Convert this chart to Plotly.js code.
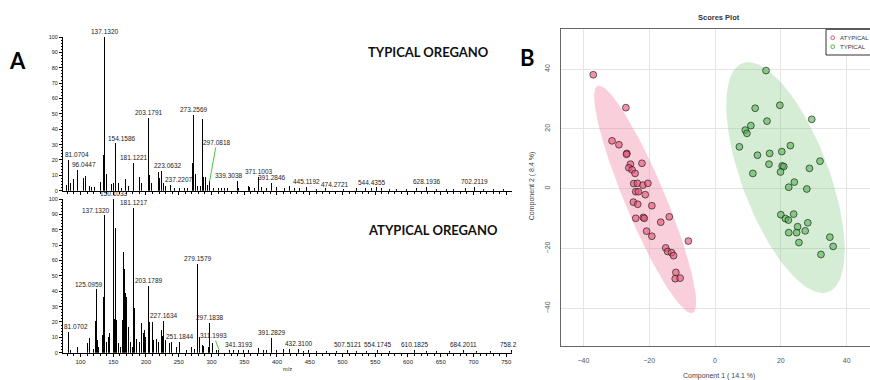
<!DOCTYPE html>
<html>
<head>
<meta charset="utf-8">
<script src="https://cdn.plot.ly/plotly-3.0.1.min.js"></script>
<style>
  html, body { margin: 0; padding: 0; background: #fff; overflow: hidden; }
  #fig { width: 870px; height: 380px; }
</style>
</head>
<body>
<div id="fig"></div>
<script>
// ---------- Panel A: MS spectra (m/z vs relative abundance, %) ----------
// Typical oregano: annotated peaks
const typLabels = ['81.0704','96.0447','137.1320','154.1586','181.1221','203.1791','223.0632','237.2207',
  '273.2569','297.0818','339.3038','371.1003','391.2846','445.1192','474.2721','544.4355','628.1936','702.2119'];
const typLabelInt = [20, 13.5, 100, 31, 18, 47, 13, 4, 49, 6, 6.5, 9, 5, 2.6, 1.5, 2, 2.2, 2.2];
// Typical oregano: remaining peaks
const typMz = [77.9, 85, 90, 104.3, 107.9, 113.4, 117, 122, 129.8, 134.8, 140, 147.6, 150, 152.7, 158.3, 162.9,
  168.4, 171, 173.5, 190.8, 193.4, 206, 208.5, 218.8, 220.5, 226.4, 230, 244, 251, 259, 264, 271.3, 275.9, 278.5,
  283.5, 286.5, 288.5, 291.1, 293.5, 303, 310, 315, 320, 325, 341.5, 356.2, 358.7, 366.4, 376.6, 384.2, 399.5,
  404.6, 412.2, 419.8, 427.4, 435.1, 450.4, 460.5, 501.3, 521.6, 534.4, 552.2, 559.8, 572.5, 582.7, 598, 613.3,
  643.8, 659.1, 669.3, 687.1, 715.1, 730.4, 745.6];
const typInt = [4, 5.2, 7.4, 8, 9.8, 3, 2.5, 2.5, 5.9, 23.2, 11, 4.5, 5, 24, 5, 2,
  7.5, 6, 3, 9, 5, 10.5, 5, 12.4, 8, 5, 3, 2, 1.5, 1.5, 2, 18, 11, 3,
  3, 46.4, 9, 9, 4, 1.5, 2, 1.5, 1.5, 1.5, 2, 3, 2.5, 2, 2.5, 2, 2.5,
  3, 2, 3.2, 2, 2, 2, 1, 1, 1.5, 1.5, 2.5, 1.5, 1, 1, 1, 2,
  1, 1, 1, 2, 1, 1, 1];

// Atypical oregano: annotated peaks
const atypLabels = ['81.0702','125.0959','137.1320','150.1033','181.1217','203.1789','227.1634','251.1844',
  '279.1579','297.1838','311.1993','341.3193','391.2829','432.3100','507.5121','554.1745','610.1825','684.2011','758.2'];
const atypLabelInt = [13.7, 41.4, 89.6, 100, 94, 43.4, 20.4, 7, 57.7, 19.5, 2, 2, 9.8, 2.2, 1.5, 1.5, 2, 1.8, 2];
// Atypical oregano: remaining peaks
const atypMz = [85, 95.1, 108.4, 110.4, 114.5, 119.6, 122.7, 126.2, 128.2, 133.3, 134.8, 140, 142.5, 145, 148.1,
  152.2, 153.7, 155.2, 158.3, 161.3, 163.9, 165.4, 166.9, 168.4, 169.5, 171, 173, 176.6, 179.1, 183.2, 185.8,
  189.8, 193.4, 195.9, 197.4, 199.5, 206.1, 209.6, 211.7, 215.3, 219.8, 223.4, 224.9, 230, 236.6, 239.2, 246.9,
  262.1, 269.8, 274.8, 282, 286, 288.5, 295.1, 300.8, 308, 328.2, 333.3, 348.5, 356.2, 371.4, 379.1, 384.2,
  399.5, 409.7, 419.8, 440.2, 447.8, 460.5, 475.8, 491, 521.6, 536.9, 572.5, 587.8, 628.4, 643.8, 664.1, 704.9, 725.3];
const atypInt = [2, 3.5, 12.6, 6.5, 9.3, 2.6, 20.6, 8, 4, 11.5, 36, 7, 10, 12.6, 5,
  22, 81, 21, 6, 4, 21, 65.7, 54.4, 38.6, 36.4, 10, 17, 7, 4, 28.9, 9,
  7, 19.5, 12.6, 14.8, 10, 20, 20, 8, 9, 7, 14.8, 11, 8, 6.5, 7, 4,
  2, 3.5, 2.5, 10, 5, 4.3, 4, 6, 2, 2, 1.5, 2, 1.5, 3, 1.5, 2,
  2, 2.5, 2.5, 1, 1.5, 1, 1, 1, 1, 1, 1, 1, 1, 1, 1, 1, 1];

// ---------- Panel B: PLS-DA scores (Component 1 vs Component 2) ----------
const atypPC1 = [-37.0, -27.1, -31.3, -29.2, -26.8, -26.9, -22.2, -25.7, -26.2, -25.2, -24.3, -24.7, -23.6, -21.9,
  -20.4, -24.1, -23.3, -21.2, -24.8, -23.5, -19.2, -24.1, -21.8, -21.5, -16.5, -13.9, -20.8, -19.2, -8.1, -15.0,
  -14.4, -13.2, -12.6, -11.9, -12.1, -10.6];
const atypPC2 = [38.1, 27.1, 16.0, 14.7, 11.8, 11.5, 8.5, 8.2, 7.0, 6.3, 5.1, 1.7, 1.8, 1.2,
  1.8, -1.0, -1.0, -2.0, -4.5, -5.2, -5.7, -9.9, -9.6, -9.9, -11.2, -9.4, -14.2, -15.9, -17.5, -19.8,
  -21.0, -21.4, -22.4, -28.0, -30.1, -29.9];
const typPC1 = [15.5, 12.2, 19.7, 15.8, 29.4, 10.9, 9.2, 9.7, 7.4, 22.9, 12.9, 16.6, 20.3, 16.4, 31.9, 20.4, 20.9,
  19.9, 11.5, 28.7, 24.1, 22.4, 27.9, 20.0, 21.4, 22.3, 23.9, 25.1, 28.2, 22.4, 24.8, 27.4, 25.5, 34.9, 35.9, 32.2];
const typPC2 = [39.5, 26.9, 27.9, 22.6, 23.2, 21.1, 19.6, 18.5, 14.0, 14.4, 11.2, 11.8, 12.4, 8.2, 9.2, 7.6, 7.4,
  5.6, 5.1, 6.8, 2.2, 0.5, -0.1, -8.7, -10.0, -10.5, -8.5, -12.7, -11.4, -14.7, -14.7, -14.1, -18.0, -16.2, -19.3, -22.0];

// ---------- helpers ----------
const FONT = 'Liberation Sans, Arial, sans-serif';
const HEAD = 'Lato, Liberation Sans, Arial, sans-serif';
const W = 870, H = 380;
const px = v => v / W;          // horizontal pixel -> paper
const py = v => (H - v) / H;    // vertical pixel -> paper

// 95% confidence ellipse of a group's scores (chi-square, 2 d.f.)
function confEllipse(xs, ys) {
  const n = xs.length;
  const mx = xs.reduce((a, b) => a + b, 0) / n;
  const my = ys.reduce((a, b) => a + b, 0) / n;
  let sxx = 0, syy = 0, sxy = 0;
  for (let i = 0; i < n; i++) {
    const dx = xs[i] - mx, dy = ys[i] - my;
    sxx += dx * dx; syy += dy * dy; sxy += dx * dy;
  }
  sxx /= n - 1; syy /= n - 1; sxy /= n - 1;
  const tr = sxx + syy, det = sxx * syy - sxy * sxy;
  const disc = Math.sqrt(tr * tr / 4 - det);
  const l1 = tr / 2 + disc, l2 = tr / 2 - disc;
  const th = Math.atan2(l1 - sxx, sxy);
  const k = Math.sqrt(5.991);
  const a = k * Math.sqrt(l1), b = k * Math.sqrt(l2);
  const ex = [], ey = [];
  for (let i = 0; i <= 120; i++) {
    const t = 2 * Math.PI * i / 120;
    ex.push(mx + a * Math.cos(t) * Math.cos(th) - b * Math.sin(t) * Math.sin(th));
    ey.push(my + a * Math.cos(t) * Math.sin(th) + b * Math.sin(t) * Math.cos(th));
  }
  return { x: ex, y: ey };
}

// label placement: [ax, ay] pixel offsets for labels moved off their peak (green leader)
const typLabelOffsets = {
  '81.0704': [9, -5], '96.0447': [6, -5], '154.1586': [6, -5], '223.0632': [6, -5],
  '237.2207': [8, -5], '297.0818': [7, -39], '339.3038': [-9, -5], '474.2721': [9, -4]
};
const atypLabelOffsets = {
  '81.0702': [8, -5], '125.0959': [-8, -5], '137.1320': [-9, -4], '311.1993': [-5, -14]
};

function peakLabels(labels, ints, xref, yref, offsets) {
  return labels.map((t, i) => {
    const base = {
      xref: xref, yref: yref, x: Number(t), y: ints[i], text: t,
      font: { size: 6.5, color: '#222', family: FONT }
    };
    if (t === '758.2') {
      return Object.assign(base, { showarrow: false, xanchor: 'left', yanchor: 'bottom', xshift: -14 });
    }
    const off = offsets[t];
    if (off) {
      return Object.assign(base, {
        showarrow: true, ax: off[0], ay: off[1], arrowhead: 0, arrowwidth: 1,
        arrowcolor: '#46c846', standoff: 0, startstandoff: 0
      });
    }
    return Object.assign(base, { showarrow: false, xanchor: 'center', yanchor: 'bottom' });
  });
}

// paper-positioned text, centred on the given pixel position
function note(x, y, text, size, family, color, extra) {
  return Object.assign({
    xref: 'paper', yref: 'paper', x: px(x), y: py(y), text: text, showarrow: false,
    xanchor: 'center', yanchor: 'middle', font: { size: size, family: family, color: color }
  }, extra || {});
}

// ---------- traces ----------
const barStyle = { color: '#000', line: { width: 0 } };
const traces = [
  {
    type: 'bar', xaxis: 'x', yaxis: 'y', name: 'Typical oregano',
    x: typLabels.map(Number).concat(typMz), y: typLabelInt.concat(typInt),
    width: 1.5, marker: barStyle, hoverinfo: 'x+y'
  },
  {
    type: 'bar', xaxis: 'x2', yaxis: 'y2', name: 'Atypical oregano',
    x: atypLabels.map(Number).concat(atypMz), y: atypLabelInt.concat(atypInt),
    width: 1.5, marker: barStyle, hoverinfo: 'x+y'
  }
];

const ellA = confEllipse(atypPC1, atypPC2);
const ellT = confEllipse(typPC1, typPC2);
traces.push(
  { type: 'scatter', mode: 'lines', xaxis: 'x3', yaxis: 'y3', x: ellA.x, y: ellA.y,
    fill: 'toself', fillcolor: 'rgba(240,128,160,0.38)', line: { width: 0 }, hoverinfo: 'skip', name: 'ATYPICAL region' },
  { type: 'scatter', mode: 'lines', xaxis: 'x3', yaxis: 'y3', x: ellT.x, y: ellT.y,
    fill: 'toself', fillcolor: 'rgba(120,200,120,0.32)', line: { width: 0 }, hoverinfo: 'skip', name: 'TYPICAL region' },
  { type: 'scatter', mode: 'markers', xaxis: 'x3', yaxis: 'y3', x: atypPC1, y: atypPC2, name: 'ATYPICAL',
    marker: { size: 6.8, color: 'rgba(234,80,120,0.62)', line: { color: 'rgba(30,30,30,0.85)', width: 0.8 } } },
  { type: 'scatter', mode: 'markers', xaxis: 'x3', yaxis: 'y3', x: typPC1, y: typPC2, name: 'TYPICAL',
    marker: { size: 6.8, color: 'rgba(80,180,80,0.6)', line: { color: 'rgba(30,30,30,0.85)', width: 0.8 } } }
);

// ---------- axes ----------
const specX = {
  range: [73.3, 758.8], showline: true, linecolor: '#000', linewidth: 1,
  ticks: 'outside', ticklen: 3, tickwidth: 1, tickcolor: '#000', dtick: 50, tick0: 0,
  minor: { ticks: 'outside', ticklen: 1.8, dtick: 10, tickcolor: '#000', showgrid: false },
  showgrid: false, zeroline: false, fixedrange: true,
  tickfont: { size: 6, family: FONT, color: '#222' }
};
const specY = {
  range: [0, 100], showline: true, linecolor: '#000', linewidth: 1,
  ticks: 'outside', ticklen: 3, tickwidth: 1, tickcolor: '#000', dtick: 10, tick0: 0,
  minor: { ticks: 'outside', ticklen: 1.5, dtick: 2, tickcolor: '#000', showgrid: false },
  showgrid: false, zeroline: false, fixedrange: true, ticklabelstandoff: 0,
  tickfont: { size: 5.5, family: FONT, color: '#222' }
};

const layout = {
  width: W, height: H,
  margin: { l: 0, r: 0, t: 0, b: 0, pad: 0, autoexpand: false },
  paper_bgcolor: '#fff', plot_bgcolor: 'rgba(0,0,0,0)',
  showlegend: false, bargap: 0, barmode: 'overlay',
  font: { family: FONT, color: '#222' },
  xaxis: Object.assign({}, specX, { domain: [px(63), px(512)], anchor: 'y', showticklabels: false }),
  yaxis: Object.assign({}, specY, { domain: [py(190.7), py(37)], anchor: 'x' }),
  xaxis2: Object.assign({}, specX, {
    domain: [px(63), px(512)], anchor: 'y2', showticklabels: true,
    title: { text: 'm/z', font: { size: 5.5, family: FONT, color: '#222' }, standoff: 3 }
  }),
  yaxis2: Object.assign({}, specY, { domain: [py(352.7), py(199)], anchor: 'x2' }),
  xaxis3: {
    domain: [px(560.7), 1], anchor: 'y3', range: [-46.9, 47.1],
    dtick: 20, tick0: 0, showgrid: true, gridcolor: '#e4e4e4', gridwidth: 1, zeroline: false,
    showline: true, mirror: true, linecolor: '#666', linewidth: 1,
    ticks: 'outside', ticklen: 4, tickcolor: 'rgba(0,0,0,0)', ticklabelstandoff: 4,
    tickfont: { size: 7, family: FONT, color: '#555' }, fixedrange: true
  },
  yaxis3: {
    domain: [py(345.7), py(29.3)], anchor: 'x3', range: [-52.5, 53.3],
    dtick: 20, tick0: 0, showgrid: true, gridcolor: '#e4e4e4', gridwidth: 1, zeroline: false,
    showline: true, mirror: true, linecolor: '#666', linewidth: 1, tickangle: -90,
    ticks: 'outside', ticklen: 4, tickcolor: 'rgba(0,0,0,0)', ticklabelstandoff: 3,
    tickfont: { size: 7, family: FONT, color: '#555' }, fixedrange: true
  },
  shapes: [
    // legend box (top-right corner of the scores plot)
    { type: 'rect', xref: 'paper', yref: 'paper', x0: px(826), x1: px(880), y0: py(55), y1: py(29.3),
      line: { color: '#333', width: 1 }, fillcolor: '#fff', layer: 'above' },
    { type: 'circle', xref: 'paper', yref: 'paper', x0: px(830.8), x1: px(834.6), y0: py(39.6), y1: py(35.8),
      line: { color: '#e8506e', width: 1 }, fillcolor: 'rgba(0,0,0,0)', layer: 'above' },
    { type: 'circle', xref: 'paper', yref: 'paper', x0: px(830.8), x1: px(834.6), y0: py(48.6), y1: py(44.8),
      line: { color: '#4cb84c', width: 1 }, fillcolor: 'rgba(0,0,0,0)', layer: 'above' }
  ],
  annotations: [
    note(17.5, 60, '<b>A</b>', 22, HEAD, '#000'),
    note(527, 57, '<b>B</b>', 22, HEAD, '#000'),
    note(428.5, 52, '<b>TYPICAL OREGANO</b>', 13, HEAD, '#111'),
    note(432.5, 230, '<b>ATYPICAL OREGANO</b>', 13, HEAD, '#111'),
    note(719, 17, '<b>Scores Plot</b>', 7.5, FONT, '#333'),
    note(719, 375.5, 'Component 1 ( 14.1 %)', 7, FONT, '#444'),
    note(531.7, 186.5, 'Component 2 ( 8.4 %)', 7, FONT, '#444', { textangle: -90 }),
    note(837.5, 37.7, 'ATYPICAL', 6, FONT, '#333', { xanchor: 'left' }),
    note(837.5, 46.7, 'TYPICAL', 6, FONT, '#333', { xanchor: 'left' })
  ]
    .concat(peakLabels(typLabels, typLabelInt, 'x', 'y', typLabelOffsets))
    .concat(peakLabels(atypLabels, atypLabelInt, 'x2', 'y2', atypLabelOffsets))
};

Plotly.newPlot('fig', traces, layout, { staticPlot: true, displayModeBar: false });
</script>
</body>
</html>
